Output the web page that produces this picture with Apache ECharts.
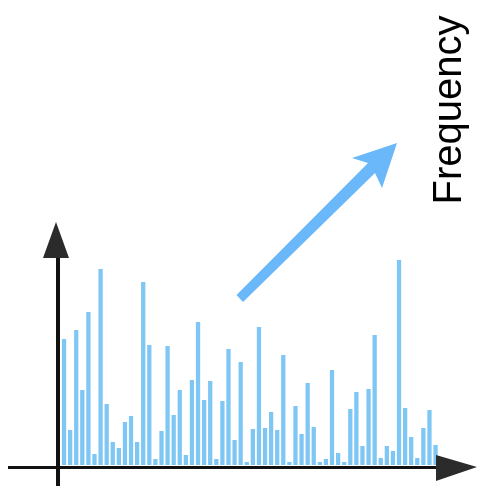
<!DOCTYPE html>
<html>
<head>
<meta charset="utf-8">
<style>
  html, body { margin: 0; padding: 0; background: #ffffff; }
  #chart { width: 477px; height: 486px; }
</style>
<script src="https://cdn.jsdelivr.net/npm/echarts@6/dist/echarts.min.js"></script>
</head>
<body>
<div id="chart"></div>
<script>
// Frequency of each bin (62 bins)
const bins = Array.from({ length: 62 }, (_, i) => 'b' + (i + 1));
const frequency = [
  126, 35, 135, 75, 153, 11, 196, 61, 23, 17,
  43, 49, 23, 183, 120, 6, 34, 119, 50, 75,
  10, 85, 143, 65, 84, 6, 64, 116, 25, 103,
  3, 36, 138, 37, 53, 35, 110, 3, 59, 31,
  82, 38, 3, 6, 95, 12, 3, 56, 73, 19,
  76, 130, 7, 19, 14, 205, 57, 28, 7, 37,
  55, 20
];
const axisTitle = 'Frequency';

const chart = echarts.init(document.getElementById('chart'), null, { renderer: 'canvas' });

chart.setOption({
  animation: false,
  backgroundColor: '#ffffff',
  grid: { left: 61, right: 38.4, top: 222, bottom: 21, containLabel: false },
  xAxis: {
    type: 'category',
    data: bins,
    axisLine: { show: false },
    axisTick: { show: false },
    axisLabel: { show: false },
    splitLine: { show: false }
  },
  yAxis: {
    type: 'value',
    min: 0,
    max: 243,
    axisLine: { show: false },
    axisTick: { show: false },
    axisLabel: { show: false },
    splitLine: { show: false }
  },
  series: [{
    type: 'bar',
    data: frequency,
    barCategoryGap: '30%',
    itemStyle: { color: '#7ec6f4' },
    silent: true
  }],
  graphic: [
    // vertical axis with arrowhead
    { type: 'line', z: 10, shape: { x1: 58, y1: 486, x2: 58, y2: 250 },
      style: { stroke: '#111111', lineWidth: 4 } },
    { type: 'polygon', z: 10, shape: { points: [[56, 222], [43, 258], [69, 258]] },
      style: { fill: '#2b2b2b' } },
    // horizontal axis with arrowhead
    { type: 'line', z: 10, shape: { x1: 8, y1: 467.5, x2: 440, y2: 467.5 },
      style: { stroke: '#111111', lineWidth: 3 } },
    { type: 'polygon', z: 10, shape: { points: [[436, 455], [477, 467], [436, 481]] },
      style: { fill: '#2b2b2b' } },
    // rising trend arrow
    { type: 'polygon', z: 10,
      shape: { points: [[236.5, 295], [368, 163], [352, 158], [397, 143], [382, 188], [375, 173], [243, 302]] },
      style: { fill: '#6ab8fa' } },
    // axis title
    { type: 'text', z: 10, x: 450, y: 110, rotation: Math.PI / 2,
      style: { text: axisTitle, fill: '#000000', font: '40px "Liberation Sans", Arial, sans-serif',
               align: 'center', verticalAlign: 'middle' } }
  ]
});
</script>
</body>
</html>
